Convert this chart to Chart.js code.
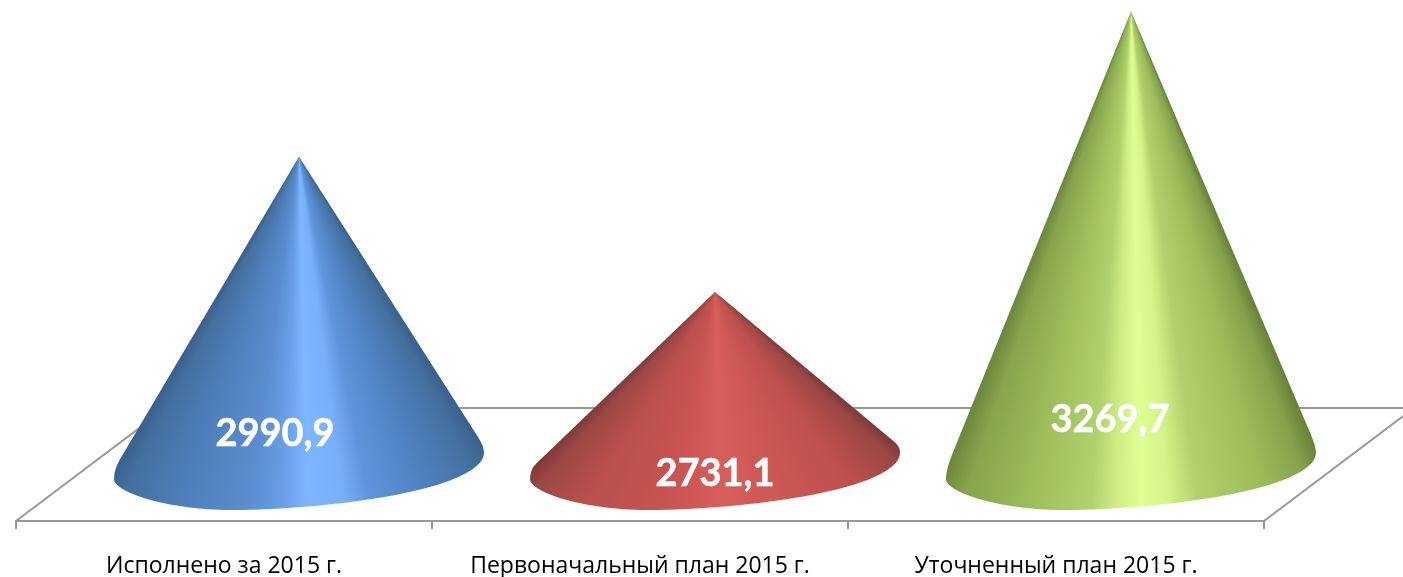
<!DOCTYPE html>
<html>
<head>
<meta charset="utf-8">
<style>
  html, body { margin: 0; padding: 0; background: #fff; }
  canvas { display: block; }
</style>
<script src="https://cdn.jsdelivr.net/npm/chart.js@4"></script>
</head>
<body>
<canvas id="chart" width="1403" height="577"></canvas>
<script>
const categories = ['Исполнено за 2015 г.', 'Первоначальный план 2015 г.', 'Уточненный план 2015 г.'];
const values = [2990.9, 2731.1, 3269.7];
const axisMin = 2400;
const axisMax = 3400;

// depth of the 3D floor, the cones stand halfway in
const depthX = 75;
const depthY = 56.5;
const coneRadius = 185;
const axisColor = '#989898';

// label nudges from the cone base centre, the original has them hand placed
const labelDx = [-24, 0, -21];
const labelY = [434, 474, 420];

// horizontal shading across the cone, -1 left edge, 1 right edge
const shades = [
  [[-1, '#3a5f8c'], [-0.88, '#44709f'], [-0.55, '#4f80bc'], [-0.25, '#5a8ccf'], [-0.08, '#689fe6'], [0.04, '#7eb6ff'], [0.2, '#78b0f8'], [0.32, '#5f95dc'], [0.6, '#4f81bf'], [0.88, '#44709f'], [1, '#3a5f8c']],
  [[-1, '#7a3b39'], [-0.88, '#9c4745'], [-0.6, '#b94f4c'], [-0.2, '#c95451'], [0.03, '#d85e5b'], [0.25, '#cd5855'], [0.6, '#bd504d'], [0.88, '#9c4745'], [1, '#7a3b39']],
  [[-1, '#6b853b'], [-0.85, '#86a54c'], [-0.5, '#9dbe5b'], [-0.2, '#b0d26c'], [-0.08, '#cdec84'], [0.05, '#dfff93'], [0.18, '#d4f48a'], [0.32, '#b0d16c'], [0.65, '#9cbc5a'], [0.88, '#84a24a'], [1, '#677f38']]
];

function conePath(ctx, tipX, tipY, cy) {
  const r = coneRadius;
  const c = tipX;
  // side lines aim at these points, the corners get rolled off just before them
  const leftAim = cy + 5;
  const rightAim = cy - 18;
  const roll = 6 / r;
  ctx.beginPath();
  ctx.moveTo(tipX, tipY);
  ctx.lineTo(c - r * (1 - roll), leftAim - (leftAim - tipY) * roll);
  ctx.quadraticCurveTo(c - r, leftAim, c - r, cy + 14.5);
  ctx.bezierCurveTo(c - r, cy + 28, c - 130, cy + 45.5, c - 68, cy + 45.5);
  ctx.bezierCurveTo(c + 30, cy + 45.5, c + r, cy + 25, c + r, cy - 12);
  ctx.quadraticCurveTo(c + r, rightAim, c + r * (1 - roll), rightAim - (rightAim - tipY) * roll);
  ctx.closePath();
}

const floorPlugin = {
  id: 'floor',
  beforeDatasetsDraw(chart) {
    const { ctx, chartArea } = chart;
    const { left, right, bottom } = chartArea;
    ctx.save();
    ctx.strokeStyle = axisColor;
    ctx.lineWidth = 2;
    ctx.beginPath();
    ctx.moveTo(left, bottom);
    ctx.lineTo(left + depthX * 2, bottom - depthY * 2);
    ctx.lineTo(right + depthX * 2, bottom - depthY * 2);
    ctx.lineTo(right, bottom);
    ctx.stroke();
    ctx.restore();
  }
};

const conePlugin = {
  id: 'cones',
  afterDatasetsDraw(chart) {
    const { ctx, chartArea } = chart;
    const meta = chart.getDatasetMeta(0);
    const cy = chartArea.bottom - depthY;
    ctx.save();
    meta.data.forEach((bar, i) => {
      const tipX = bar.x + depthX;
      const tipY = bar.y - depthY;
      const h = cy - tipY;
      const grad = ctx.createConicGradient(0, tipX, tipY);
      shades[i].slice().reverse().forEach(([f, color]) => {
        // base is tilted, the right side of it sits higher than the left
        const rayH = f < 0 ? h + 5 : h - 18;
        const angle = Math.atan2(rayH, f * coneRadius);
        grad.addColorStop(angle / (Math.PI * 2), color);
      });
      conePath(ctx, tipX, tipY, cy);
      ctx.fillStyle = grad;
      ctx.fill();
    });
    // value labels on top of all cones
    ctx.fillStyle = '#fff';
    ctx.strokeStyle = '#fff';
    ctx.lineWidth = 0.5;
    ctx.font = 'bold 38px Lato, "Open Sans", sans-serif';
    ctx.textAlign = 'center';
    ctx.textBaseline = 'middle';
    meta.data.forEach((bar, i) => {
      const text = String(values[i]).replace('.', ',');
      ctx.fillText(text, bar.x + depthX + labelDx[i], labelY[i]);
      ctx.strokeText(text, bar.x + depthX + labelDx[i], labelY[i]);
    });
    ctx.restore();
  }
};

new Chart(document.getElementById('chart').getContext('2d'), {
  type: 'bar',
  data: {
    labels: categories,
    datasets: [{ data: values, backgroundColor: 'rgba(0,0,0,0)', borderWidth: 0 }]
  },
  options: {
    responsive: false,
    animation: false,
    layout: { padding: { left: 16, right: 139, top: 0, bottom: 0 } },
    plugins: { legend: { display: false }, tooltip: { enabled: false } },
    scales: {
      x: {
        offset: true,
        afterFit: s => { s.height = 56; },
        border: { color: axisColor, width: 2 },
        grid: { offset: true, drawOnChartArea: false, drawTicks: true, tickLength: 8, color: axisColor, lineWidth: 2 },
        ticks: { color: '#000', maxRotation: 0, padding: 24, font: { family: '"Open Sans", sans-serif', size: 23 } }
      },
      y: { display: false, min: axisMin, max: axisMax }
    }
  },
  plugins: [floorPlugin, conePlugin]
});
</script>
</body>
</html>
